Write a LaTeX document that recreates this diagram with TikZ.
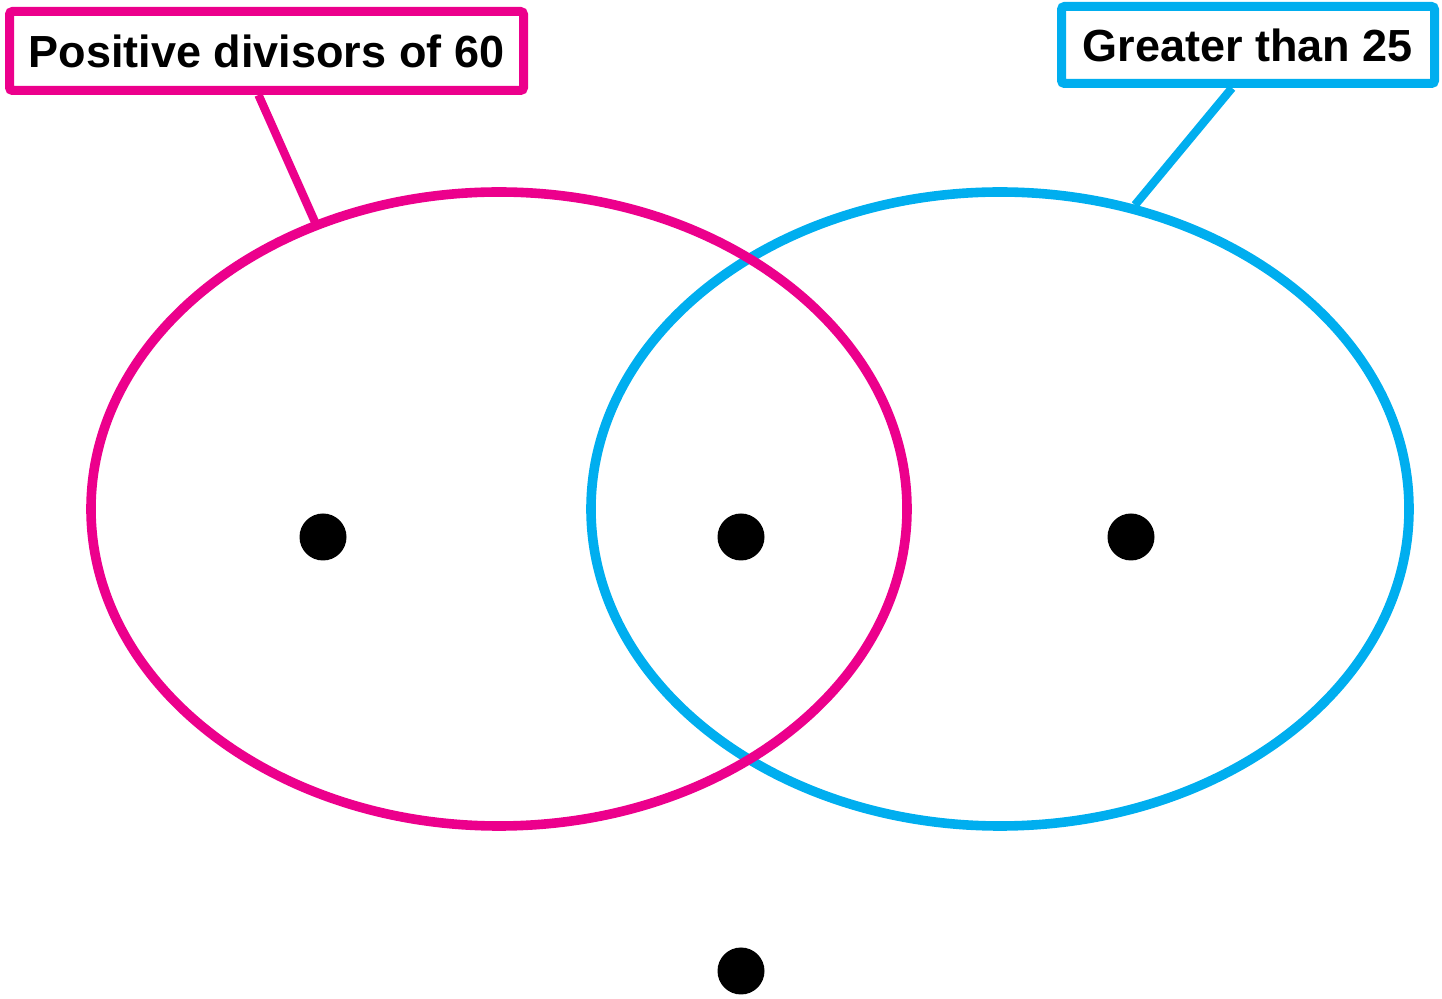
\documentclass[tikz,border=0pt]{standalone}
\usepackage{fontspec}
\setmainfont{Liberation Sans}
\usepackage{tikz}
\usepackage{xcolor}
\usetikzlibrary{positioning,calc}

\definecolor{setpink}{HTML}{EC008C}
\definecolor{setblue}{HTML}{00AEEF}

\begin{document}
\begin{tikzpicture}[x=0.5pt,y=-0.5pt,
    setlabel/.style={line width=4.5pt,rounded corners=1.5pt,fill=white,
      inner sep=0pt,font=\fontsize{22.5}{27}\selectfont\bfseries},
    setline/.style={line width=4.8pt},
    leader/.style={line width=4.2pt},
    dot/.style={circle,fill=black,inner sep=0pt,minimum size=23.5pt}]
  % canvas in pixels, y downwards
  \useasboundingbox (0,0) rectangle (1442,999);
  % the two sets
  \draw[setline,setblue] (1000,509) ellipse [x radius=409,y radius=317];
  \draw[setline,setpink] (499,509) ellipse [x radius=408,y radius=317];
  % where the leaders meet the ellipses
  \coordinate (hitA) at (315,222);
  \coordinate (hitB) at (1135,205);
  % labels
  \node[setlabel,draw=setpink,minimum width=257pt,minimum height=39.5pt]
    (labelA) at (266.5,51) {Positive divisors of 60};
  \node[setlabel,draw=setblue,minimum width=186.5pt,minimum height=38.5pt]
    (labelB) at (1248,45) {Greater than 25};
  \draw[leader,setpink] ([xshift=-4pt]labelA.south) -- (hitA);
  \draw[leader,setblue] ([xshift=-8pt]labelB.south) -- (hitB);
  % regions
  \node[dot] (onlyA) at (323,537) {};
  \node[dot] (both) at (741,537) {};
  \node[dot] (onlyB) at (1131,537) {};
  \node[dot] (neither) at (741,971) {};
\end{tikzpicture}
\end{document}
